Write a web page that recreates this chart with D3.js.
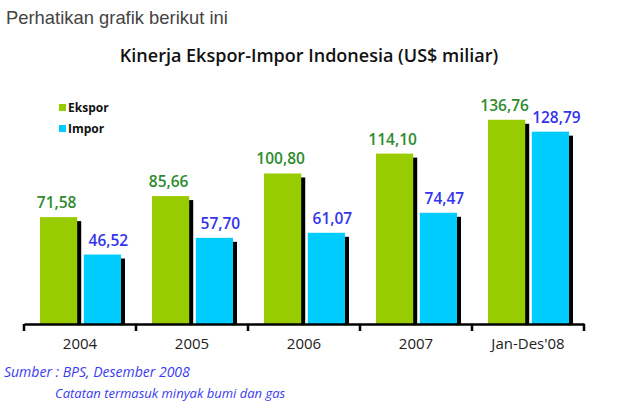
<!DOCTYPE html>
<html>
<head>
<meta charset="utf-8">
<script src="https://cdn.jsdelivr.net/npm/d3@7"></script>
<style>
html,body{margin:0;padding:0;background:#fff;}
svg{display:block;}
</style>
</head>
<body>
<svg id="chart" width="637" height="418"></svg>
<script>
const categories = ["2004", "2005", "2006", "2007", "Jan-Des'08"];
const seriesNames = ["Ekspor", "Impor"];
const ekspor = [71.58, 85.66, 100.80, 114.10, 136.76];
const impor = [46.52, 57.70, 61.07, 74.47, 128.79];
const labelEkspor = ["71,58", "85,66", "100,80", "114,10", "136,76"];
const labelImpor = ["46,52", "57,70", "61,07", "74,47", "128,79"];

const colors = {Ekspor: "#99cc00", Impor: "#00ccff"};
const labelColors = {Ekspor: "#2e8b2e", Impor: "#3333ee"};

const svg = d3.select("#chart");
const chartFont = "'Open Sans', 'DejaVu Sans', sans-serif";

// Header text
svg.append("text")
  .attr("x", 6).attr("y", 24)
  .attr("font-family", "'Liberation Sans', Arial, sans-serif")
  .attr("font-size", 18.4)
  .attr("fill", "#444")
  .text("Perhatikan grafik berikut ini");

svg.append("text")
  .attr("x", 309).attr("y", 62)
  .attr("text-anchor", "middle")
  .attr("font-family", chartFont)
  .attr("font-weight", 600)
  .attr("font-size", 18)
  .attr("fill", "#111")
  .text("Kinerja Ekspor-Impor Indonesia (US$ miliar)");

// Scales
const axisY = 324;
const x0 = d3.scaleBand().domain(categories).range([24, 584]).paddingInner(0).paddingOuter(0);
const x1 = d3.scaleBand().domain(seriesNames).range([16, 97]).paddingInner(0.15);
const y = d3.scaleLinear().domain([0, 150]).range([axisY, 100]);

const data = categories.map((c, i) => ({
  cat: c,
  values: [
    {key: "Ekspor", value: ekspor[i], label: labelEkspor[i]},
    {key: "Impor", value: impor[i], label: labelImpor[i]}
  ]
}));

const groups = svg.append("g").selectAll("g")
  .data(data).join("g")
  .attr("transform", d => `translate(${x0(d.cat)},0)`);

// Shadows
groups.selectAll("rect.shadow")
  .data(d => d.values).join("rect")
  .attr("class", "shadow")
  .attr("x", d => x1(d.key) + 4)
  .attr("y", d => y(d.value) + 4)
  .attr("width", x1.bandwidth())
  .attr("height", d => axisY - y(d.value) - 4)
  .attr("fill", "#000");

// Bars
groups.selectAll("rect.bar")
  .data(d => d.values).join("rect")
  .attr("class", "bar")
  .attr("x", d => x1(d.key))
  .attr("y", d => y(d.value))
  .attr("width", x1.bandwidth())
  .attr("height", d => axisY - y(d.value))
  .attr("fill", d => colors[d.key]);

// Value labels
groups.selectAll("text.val")
  .data(d => d.values).join("text")
  .attr("class", "val")
  .attr("x", d => x1(d.key) + x1.bandwidth() / 2 + (d.key === "Impor" ? 6 : -2))
  .attr("y", d => y(d.value) - 9)
  .attr("text-anchor", "middle")
  .attr("font-family", chartFont)
  .attr("font-weight", 600)
  .attr("font-size", 15.5)
  .attr("fill", d => labelColors[d.key])
  .text(d => d.label);

// Axis
const axis = d3.axisBottom(x0).tickSize(0).tickPadding(14);
const axisG = svg.append("g").attr("transform", `translate(0,${axisY})`).call(axis);
axisG.select(".domain").attr("stroke", "#000").attr("stroke-width", 2.5);
axisG.selectAll(".tick text")
  .attr("font-family", chartFont)
  .attr("font-size", 15)
  .attr("fill", "#222");

const edges = categories.map(c => x0(c)).concat([x0.range()[1]]);
axisG.selectAll("line.edge").data(edges).join("line")
  .attr("class", "edge")
  .attr("x1", d => d).attr("x2", d => d)
  .attr("y1", 0).attr("y2", 7)
  .attr("stroke", "#000").attr("stroke-width", 2.5);

// Legend
const legend = svg.append("g").attr("transform", "translate(59,104)");
const li = legend.selectAll("g").data(seriesNames).join("g")
  .attr("transform", (d, i) => `translate(0,${i * 21})`);
li.append("rect").attr("width", 7).attr("height", 7).attr("fill", d => colors[d]);
li.append("text").attr("x", 9).attr("y", 7.5)
  .attr("font-family", chartFont)
  .attr("font-weight", 700)
  .attr("font-size", 12)
  .attr("fill", "#111")
  .text(d => d);

// Footer notes
svg.append("text")
  .attr("x", 4).attr("y", 377)
  .attr("font-family", chartFont)
  .attr("font-style", "italic")
  .attr("font-size", 14)
  .attr("fill", "#3b3bf0")
  .text("Sumber : BPS, Desember 2008");
svg.append("text")
  .attr("x", 55).attr("y", 398)
  .attr("font-family", chartFont)
  .attr("font-style", "italic")
  .attr("font-size", 13)
  .attr("fill", "#3b3bf0")
  .text("Catatan termasuk minyak bumi dan gas");
</script>
</body>
</html>
